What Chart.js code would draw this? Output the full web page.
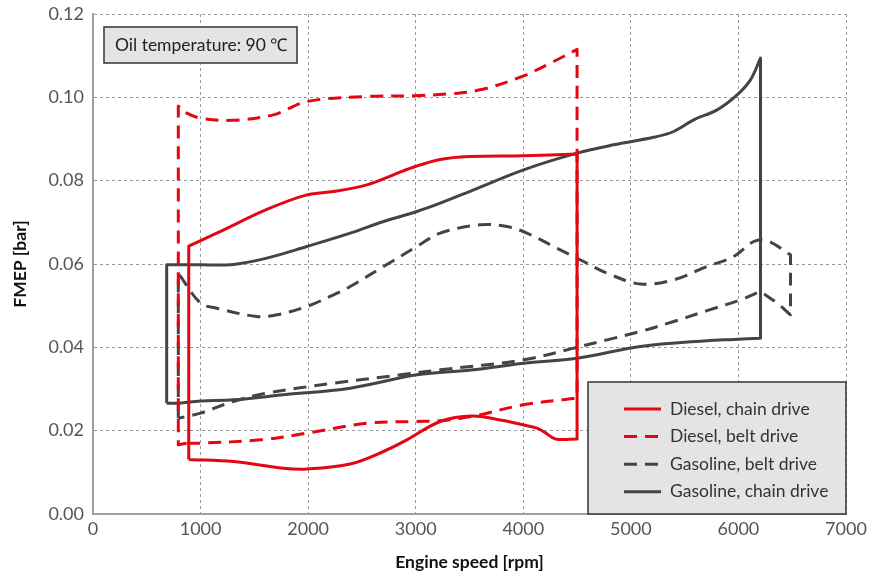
<!DOCTYPE html>
<html>
<head>
<meta charset="utf-8">
<script src="https://cdn.jsdelivr.net/npm/chart.js"></script>
<style>
  html, body { margin: 0; padding: 0; background: #fff; }
  #wrap { width: 882px; height: 577px; position: relative; }
</style>
</head>
<body>
<div id="wrap"><canvas id="myChart"></canvas></div>
<script>
// values: each series is a closed loop (rpm, FMEP)
// corner points are listed twice so the smoothing keeps the corners sharp
const dieselChainX = [890, 890, 890, 890, 1150, 1616, 1988, 2236, 2546, 2793, 2995, 3228, 3500, 4000, 4500, 4500, 4500, 4500, 4300, 4200, 4127, 3997, 3800, 3523, 3228, 2918, 2700, 2391, 1988, 1770, 1305, 890, 890];
const dieselChainY = [0.0131, 0.0131, 0.0643, 0.0643, 0.0674, 0.0731, 0.0766, 0.0774, 0.0790, 0.0814, 0.0834, 0.0851, 0.0858, 0.0860, 0.0864, 0.0864, 0.0180, 0.0180, 0.0180, 0.0196, 0.0206, 0.0214, 0.0225, 0.0235, 0.0222, 0.0178, 0.0150, 0.0120, 0.0108, 0.0110, 0.0126, 0.0131, 0.0131];

const dieselBeltX = [870, 793, 793, 793, 793, 872, 1000, 1300, 1677, 1988, 2546, 2995, 3290, 3600, 3997, 4282, 4500, 4500, 4500, 4500, 4390, 3997, 3523, 3228, 2995, 2546, 1988, 1560, 1000, 870];
const dieselBeltY = [0.0170, 0.0166, 0.0166, 0.0979, 0.0979, 0.0962, 0.0950, 0.0945, 0.0958, 0.0990, 0.1002, 0.1004, 0.1008, 0.1018, 0.1051, 0.1086, 0.1115, 0.1115, 0.0278, 0.0278, 0.0275, 0.0262, 0.0234, 0.0224, 0.0222, 0.0218, 0.0194, 0.0178, 0.0170, 0.0170];

const gasBeltX = [793, 793, 793, 793, 1000, 1150, 1522, 1709, 1988, 2236, 2391, 2701, 3011, 3228, 3600, 3848, 4034, 4313, 4561, 4778, 5088, 5398, 5708, 5956, 6142, 6266, 6484, 6484, 6484, 6484, 6360, 6205, 6205, 6019, 5708, 5398, 5088, 4778, 4468, 4003, 3228, 2856, 2236, 1616, 1305, 1000, 870, 793];
const gasBeltY = [0.0230, 0.0230, 0.0578, 0.0578, 0.0506, 0.0494, 0.0474, 0.0478, 0.0498, 0.0526, 0.0546, 0.0594, 0.0642, 0.0674, 0.0694, 0.0690, 0.0674, 0.0638, 0.0606, 0.0578, 0.0552, 0.0562, 0.0594, 0.0618, 0.0654, 0.0656, 0.0622, 0.0622, 0.0478, 0.0478, 0.0506, 0.0534, 0.0534, 0.0514, 0.0488, 0.0462, 0.0438, 0.0418, 0.0398, 0.0370, 0.0346, 0.0334, 0.0314, 0.0290, 0.0270, 0.0242, 0.0234, 0.0230];

const gasChainX = [685, 685, 685, 685, 1000, 1305, 1616, 1988, 2391, 2701, 3011, 3228, 3538, 4003, 4500, 4840, 5212, 5398, 5584, 5802, 5988, 6112, 6205, 6205, 6205, 6205, 5956, 5708, 5088, 4500, 4003, 3538, 3011, 2391, 1770, 1305, 1000, 778, 685, 685];
const gasChainY = [0.0266, 0.0266, 0.0598, 0.0598, 0.0598, 0.0599, 0.0614, 0.0642, 0.0674, 0.0702, 0.0726, 0.0746, 0.0778, 0.0826, 0.0866, 0.0886, 0.0904, 0.0918, 0.0946, 0.0970, 0.1006, 0.1042, 0.1094, 0.1094, 0.0422, 0.0422, 0.0419, 0.0416, 0.0402, 0.0374, 0.0362, 0.0346, 0.0334, 0.0302, 0.0286, 0.0274, 0.0271, 0.0266, 0.0266, 0.0266];

const seriesNames = ['Diesel, chain drive', 'Diesel, belt drive', 'Gasoline, belt drive', 'Gasoline, chain drive'];
const noteText = 'Oil temperature: 90 \u2103';

const RED = '#e30613';
const DARK = '#444444';
const FONT = 'Lato, "Open Sans", sans-serif';

function pts(xs, ys) {
  return xs.map((x, i) => ({ x: x, y: ys[i] }));
}

const datasets = [
  { label: seriesNames[0], data: pts(dieselChainX, dieselChainY), borderColor: RED, borderDash: [] },
  { label: seriesNames[1], data: pts(dieselBeltX, dieselBeltY), borderColor: RED, borderDash: [13, 8] },
  { label: seriesNames[2], data: pts(gasBeltX, gasBeltY), borderColor: DARK, borderDash: [13, 8] },
  { label: seriesNames[3], data: pts(gasChainX, gasChainY), borderColor: DARK, borderDash: [] }
].map(d => Object.assign(d, {
  showLine: true, pointRadius: 0, borderWidth: 3, tension: 0.35,
  borderJoinStyle: 'round', borderCapStyle: 'butt', fill: false
}));

// legend box and the note box, drawn by hand
const boxes = {
  id: 'boxes',
  afterDatasetsDraw(chart) {
    const ctx = chart.ctx;
    const a = chart.chartArea;
    ctx.save();

    // note box top-left
    ctx.fillStyle = '#e4e4e4';
    ctx.strokeStyle = '#333';
    ctx.lineWidth = 1.5;
    ctx.fillRect(a.left + 11, a.top + 13, 193, 36);
    ctx.strokeRect(a.left + 11, a.top + 13, 193, 36);
    ctx.fillStyle = '#222';
    ctx.font = '17.5px ' + FONT;
    ctx.textBaseline = 'middle';
    ctx.fillText(noteText, a.left + 22, a.top + 31);

    // legend box bottom-right
    const lx = a.right - 258, ly = a.bottom - 132;
    ctx.fillStyle = '#e4e4e4';
    ctx.fillRect(lx, ly, 258, 132);
    ctx.strokeStyle = '#333';
    ctx.strokeRect(lx, ly, 258, 132);
    datasets.forEach((d, i) => {
      const y = ly + 27 + i * 27.6;
      ctx.beginPath();
      ctx.strokeStyle = d.borderColor;
      ctx.lineWidth = 3;
      ctx.setLineDash(d.borderDash.length ? [13, 8] : []);
      ctx.moveTo(lx + 36, y);
      ctx.lineTo(lx + 73, y);
      ctx.stroke();
      ctx.setLineDash([]);
      ctx.fillStyle = '#333';
      ctx.font = '17.5px ' + FONT;
      ctx.fillText(d.label, lx + 82, y);
    });
    ctx.restore();
  }
};

const config = {
  type: 'scatter',
  data: { datasets: datasets },
  options: {
    responsive: false,
    animation: false,
    layout: { padding: { top: 14, right: 36, left: 0, bottom: 0 } },
    plugins: { legend: { display: false }, tooltip: { enabled: false } },
    scales: {
      x: {
        type: 'linear', min: 0, max: 7000,
        ticks: { stepSize: 1000, color: '#555', font: { family: FONT, size: 18 }, padding: 4, maxRotation: 0,
          callback: v => String(v) },
        grid: { color: '#9a9a9a', lineWidth: 1, drawTicks: false },
        border: { color: '#a0a0a0', width: 2, dash: [3, 3] },
        title: { display: true, text: 'Engine speed [rpm]', color: '#111', font: { family: FONT, size: 17.5, weight: 'bold' }, padding: { top: 10 } },
        afterFit(s) { s.height = 63; s.paddingLeft = 0; s.paddingRight = 0; }
      },
      y: {
        min: 0, max: 0.12,
        ticks: { stepSize: 0.02, color: '#555', font: { family: FONT, size: 18 }, padding: 9,
          callback: v => v.toFixed(2) },
        grid: { color: '#9a9a9a', lineWidth: 1, drawTicks: false },
        border: { color: '#a0a0a0', width: 2, dash: [3, 3] },
        title: { display: true, text: 'FMEP [bar]', color: '#111', font: { family: FONT, size: 17.5, weight: 'bold' }, padding: { top: 10, bottom: 0 } },
        afterFit(s) { s.width = 93; s.paddingTop = 0; s.paddingBottom = 0; }
      }
    }
  },
  plugins: [boxes]
};

const canvas = document.getElementById('myChart');
canvas.width = 882;
canvas.height = 577;
const myChart = new Chart(canvas, config);
</script>
</body>
</html>
